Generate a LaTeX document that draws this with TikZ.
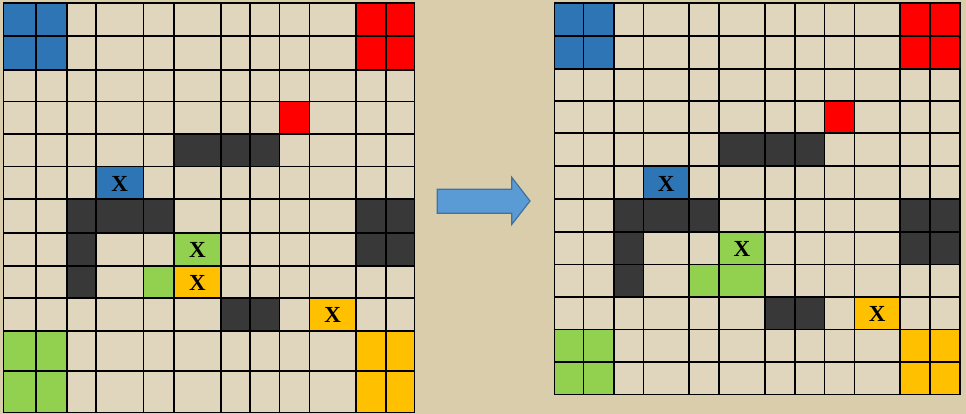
\documentclass[tikz,border=0pt]{standalone}
\usepackage{fontspec}
\setmainfont{Liberation Serif}
\definecolor{paper}{HTML}{D9CDAC}
\definecolor{cellpaper}{HTML}{DFD6BD}
\definecolor{cblue}{HTML}{2E75B6}
\definecolor{cred}{HTML}{FF0000}
\definecolor{cdark}{HTML}{383838}
\definecolor{cgreen}{HTML}{92D050}
\definecolor{corange}{HTML}{FFC000}
\definecolor{arrowfill}{HTML}{5B9BD5}
\definecolor{arrowline}{HTML}{41719C}
\tikzset{
  gridline/.style={line width=1.6pt, line cap=rect, black},
  xmark/.style={font=\bfseries\fontsize{23}{23}\selectfont, inner sep=0pt, text=black},
  blockarrow/.style={fill=arrowfill, draw=arrowline, line width=1.2pt, line join=miter}
}
\def\LXarr{{3.3,35.7,66.7,96,143.3,174,221,250,279.3,309.3,356,385.7,414.3}}
\def\LYarr{{3.3,36,70,101.7,134.3,166.7,199.3,232.7,265.7,297.7,330.7,371,412.3}}
\def\RXarr{{554.3,583.3,614,643.3,689,719,765,795,824.3,854.3,900,930,960}}
\def\RYarr{{3.3,36,69,101,133.3,166,199.3,231.7,264.3,296.7,329.3,361.7,394.3}}
\newcommand\paintcell[5]{%
  \pgfmathsetmacro\xa{#1[#3]}\pgfmathsetmacro\xb{#1[#3+1]}%
  \pgfmathsetmacro\ya{#2[#4]}\pgfmathsetmacro\yb{#2[#4+1]}%
  \fill[#5] (\xa,\ya) rectangle (\xb,\yb);}
\newcommand\markcell[5]{%
  \pgfmathsetmacro\xa{#1[#3]}\pgfmathsetmacro\xb{#1[#3+1]}%
  \pgfmathsetmacro\ya{#2[#4]}\pgfmathsetmacro\yb{#2[#4+1]}%
  \node[xmark] (#5) at ({(\xa+\xb)/2},{(\ya+\yb)/2+1}) {X};}
\begin{document}
\begin{tikzpicture}[x=1pt,y=-1pt]
\fill[paper] (0,0) rectangle (966,414);
\useasboundingbox (0,0) rectangle (966,414);
\fill[cellpaper] (3.3,3.3) rectangle (414.3,412.3);
\fill[cellpaper] (554.3,3.3) rectangle (960,394.3);
% ---------- left grid ----------
\foreach \c/\r/\col in {0/0/cblue,1/0/cblue,0/1/cblue,1/1/cblue,
  10/0/cred,11/0/cred,10/1/cred,11/1/cred,8/3/cred,
  5/4/cdark,6/4/cdark,7/4/cdark,3/5/cblue,
  2/6/cdark,3/6/cdark,4/6/cdark,10/6/cdark,11/6/cdark,
  2/7/cdark,5/7/cgreen,10/7/cdark,11/7/cdark,
  2/8/cdark,4/8/cgreen,5/8/corange,
  6/9/cdark,7/9/cdark,9/9/corange,
  0/10/cgreen,1/10/cgreen,0/11/cgreen,1/11/cgreen,
  10/10/corange,11/10/corange,10/11/corange,11/11/corange}
  {\paintcell{\LXarr}{\LYarr}{\c}{\r}{\col}}
\foreach \i in {0,...,12}{
  \pgfmathsetmacro\xx{\LXarr[\i]}
  \draw[gridline] (\xx,3.3) -- (\xx,412.3);
  \pgfmathsetmacro\yy{\LYarr[\i]}
  \draw[gridline] (3.3,\yy) -- (414.3,\yy);
}
\markcell{\LXarr}{\LYarr}{3}{5}{lxblue}
\markcell{\LXarr}{\LYarr}{5}{7}{lxgreen}
\markcell{\LXarr}{\LYarr}{5}{8}{lxorangea}
\markcell{\LXarr}{\LYarr}{9}{9}{lxorangeb}
% ---------- right grid ----------
\foreach \c/\r/\col in {0/0/cblue,1/0/cblue,0/1/cblue,1/1/cblue,
  10/0/cred,11/0/cred,10/1/cred,11/1/cred,8/3/cred,
  5/4/cdark,6/4/cdark,7/4/cdark,3/5/cblue,
  2/6/cdark,3/6/cdark,4/6/cdark,10/6/cdark,11/6/cdark,
  2/7/cdark,5/7/cgreen,10/7/cdark,11/7/cdark,
  2/8/cdark,4/8/cgreen,5/8/cgreen,
  6/9/cdark,7/9/cdark,9/9/corange,
  0/10/cgreen,1/10/cgreen,0/11/cgreen,1/11/cgreen,
  10/10/corange,11/10/corange,10/11/corange,11/11/corange}
  {\paintcell{\RXarr}{\RYarr}{\c}{\r}{\col}}
\foreach \i in {0,...,12}{
  \pgfmathsetmacro\xx{\RXarr[\i]}
  \draw[gridline] (\xx,3.3) -- (\xx,394.3);
  \pgfmathsetmacro\yy{\RYarr[\i]}
  \draw[gridline] (554.3,\yy) -- (960,\yy);
}
\markcell{\RXarr}{\RYarr}{3}{5}{rxblue}
\markcell{\RXarr}{\RYarr}{5}{7}{rxgreen}
\markcell{\RXarr}{\RYarr}{9}{9}{rxorange}
% ---------- arrow ----------
\draw[blockarrow] (437.3,189.3) -- (511.7,189.3) -- (511.7,177.3) -- (530,201)
  -- (511.7,224.5) -- (511.7,213.3) -- (437.3,213.3) -- cycle;
\end{tikzpicture}
\end{document}
